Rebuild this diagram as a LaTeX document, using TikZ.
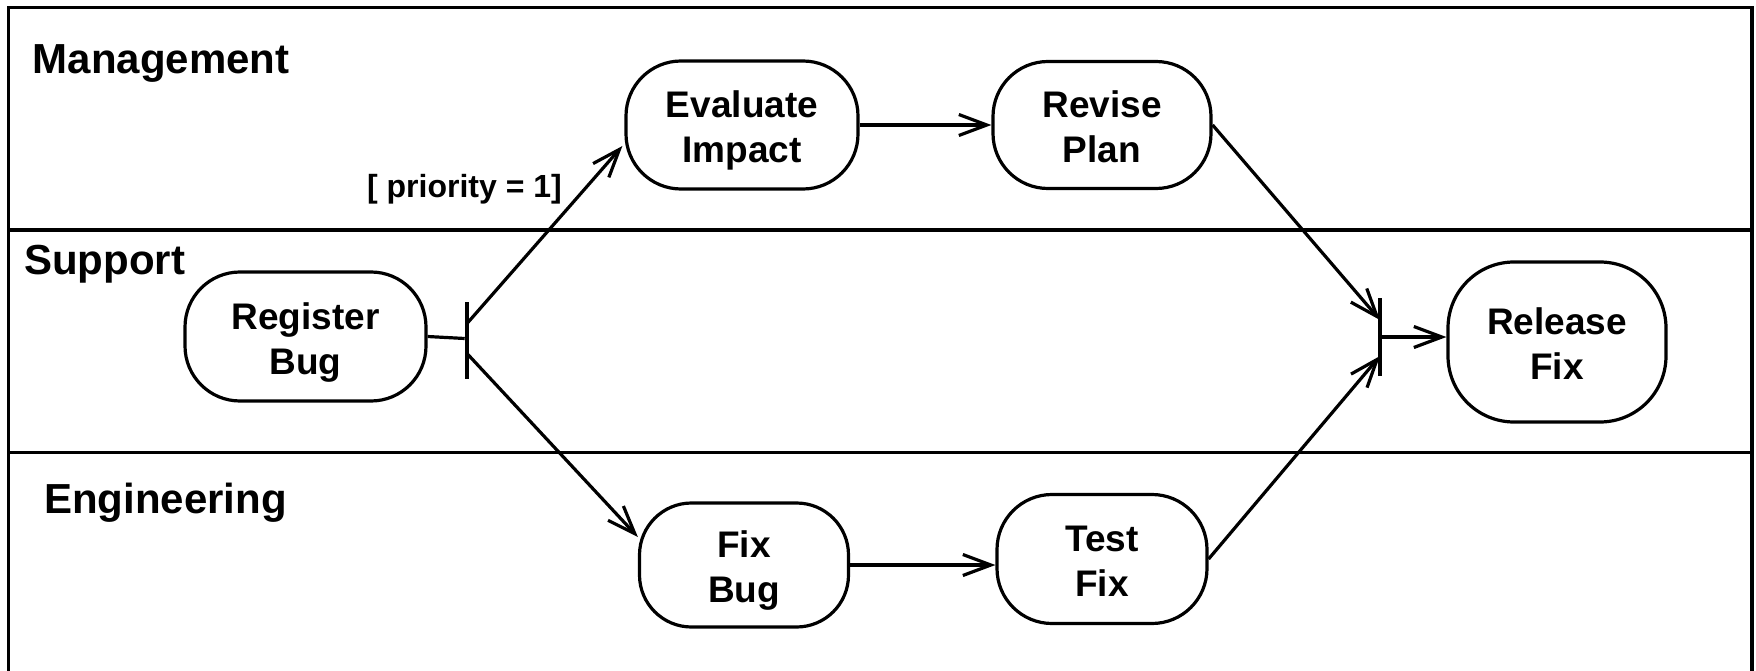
\documentclass[tikz,border=0pt]{standalone}
\usepackage{fontspec}
\setmainfont{Liberation Sans}
\usetikzlibrary{arrows.meta,calc}
\begin{document}
\begin{tikzpicture}[x=1pt,y=-1pt,
  lane/.style={line width=3.2pt,line cap=rect},
  lanelabel/.style={anchor=base west,inner sep=0pt,font=\fontsize{42}{50}\selectfont\bfseries},
  act/.style={draw,line width=3.2pt,rounded corners=55pt,inner sep=0pt,align=center,
    text height=75pt,text depth=0pt,
    font=\fontsize{37}{45}\selectfont\bfseries},
  bar/.style={fill=black,draw=none,inner sep=0pt,minimum width=4.2pt},
  flow/.style={line width=3.2pt,-{Straight Barb[length=28pt,width=21pt,line width=3.2pt]}},
  plain/.style={line width=3.2pt},
  guard/.style={anchor=base east,inner sep=0pt,font=\fontsize{32}{38}\selectfont\bfseries}]
\useasboundingbox (0,0) rectangle (1756,671);
% frame and lanes
\draw[lane] (8.5,671) -- (8.5,7.7) -- (1752,7.7) -- (1752,671);
\draw[lane] (8.5,230) -- (1752,230);
\draw[lane] (8.5,452.5) -- (1752,452.5);
\node[lanelabel] (lmgmt) at (32.5,73.6) {Management};
\node[lanelabel] (lsup) at (24,274) {Support};
\node[lanelabel] (leng) at (44,513.5) {Engineering};
% activities
\node[act,minimum width=241pt,minimum height=129pt] (reg) at (305.5,336.5) {Register\\Bug};
\node[act,minimum width=232pt,minimum height=128pt] (eval) at (742,125) {Evaluate\\Impact};
\node[act,minimum width=218pt,minimum height=127pt] (rev) at (1102,125) {Revise\\Plan};
\node[act,minimum width=209pt,minimum height=124pt,rounded corners=52pt] (fix) at (744,565) {Fix\\Bug};
\node[act,minimum width=210pt,minimum height=129pt] (test) at (1102,559) {Test\\Fix};
\node[act,minimum width=218pt,minimum height=160pt,rounded corners=66pt] (rel) at (1557,342) {Release\\Fix};
% fork and join
\node[bar,minimum height=77pt] (fork) at (467,340.5) {};
\node[bar,minimum height=78pt] (join) at (1380,337) {};
% guard
\node[guard] (prio) at (562,197.7) {[ priority = 1]};
% connectors
\draw[plain] (reg.east) -- ([yshift=2pt]fork.west);
\draw[flow] ([yshift=17pt]fork.center) -- ([yshift=-21pt,xshift=-2pt]eval.west);
\draw[flow] ([yshift=-13pt]fork.center) -- ([yshift=28pt]fix.west);
\draw[flow] (eval.east) -- (rev.west);
\draw[flow] (fix.east) -- (fix.east -| test.west);
\draw[flow] (rev.east) -- ([yshift=17pt]join.center);
\draw[flow] (test.east) -- ([yshift=-19pt]join.center);
\draw[flow] (join.center) -- (join.center -| rel.west);
\end{tikzpicture}
\end{document}
